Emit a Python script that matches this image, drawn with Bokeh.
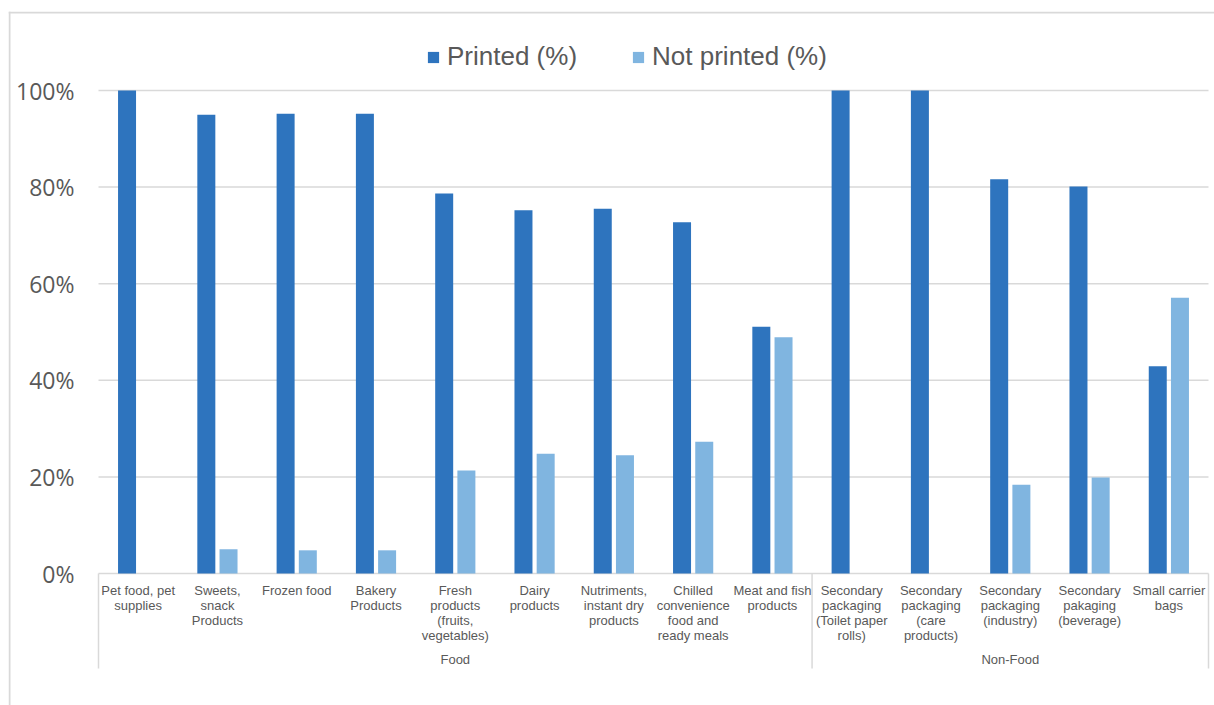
from bokeh.plotting import figure
from bokeh.models import ColumnDataSource, Range1d, Legend, LegendItem
from bokeh.transform import dodge
from bokeh.core.properties import value
from bokeh.embed import file_html
from bokeh.resources import INLINE

# ---- data -------------------------------------------------------------
categories = [
    "Pet food, pet\nsupplies",
    "Sweets,\nsnack\nProducts",
    "Frozen food",
    "Bakery\nProducts",
    "Fresh\nproducts\n(fruits,\nvegetables)",
    "Dairy\nproducts",
    "Nutriments,\ninstant dry\nproducts",
    "Chilled\nconvenience\nfood and\nready meals",
    "Meat and fish\nproducts",
    "Secondary\npackaging\n(Toilet paper\nrolls)",
    "Secondary\npackaging\n(care\nproducts)",
    "Secondary\npackaging\n(industry)",
    "Secondary\npakaging\n(beverage)",
    "Small carrier\nbags",
]
groups = ["Food", "Non-Food"]
group_sizes = [9, 5]
printed = [100.0, 95.0, 95.2, 95.2, 78.7, 75.2, 75.5, 72.7, 51.1, 100.0, 100.0, 81.6, 80.1, 42.9]
not_printed = [0.0, 5.0, 4.8, 4.8, 21.3, 24.8, 24.5, 27.3, 48.9, 0.0, 0.0, 18.4, 19.9, 57.1]
y_ticks = [0, 20, 40, 60, 80, 100]
y_tick_labels = ["0%", "20%", "40%", "60%", "80%", "100%"]
series_names = ["Printed (%)", "Not printed (%)"]

# ---- page geometry (pixels) --------------------------------------------
W, H = 1214, 705
FRAME_L, FRAME_T = 8, 11          # outer chart border
PLOT_L, PLOT_R = 98, 1208         # category span
ZERO_Y, FULL_Y = 573, 90          # 0 % and 100 % lines

n = len(categories)
px_x = (PLOT_R - PLOT_L) / n
px_y = (ZERO_Y - FULL_Y) / 100.0


def sx(px):
    return (px - PLOT_L) / px_x


def sy(py):
    return (ZERO_Y - py) / px_y


DARK = "#2E74BE"
LIGHT = "#80B5E0"
GRID = "#D9D9D9"
TEXT = "#595959"

positions = [i + 0.5 for i in range(n)]
source = ColumnDataSource(dict(pos=positions, printed=printed, not_printed=not_printed))

p = figure(
    width=W, height=H,
    x_range=Range1d(sx(FRAME_L), sx(W)),
    y_range=Range1d(sy(H), sy(FRAME_T)),
    x_axis_type=None, y_axis_type=None,
    min_border_left=FRAME_L, min_border_top=FRAME_T,
    min_border_right=0, min_border_bottom=0,
    output_backend="svg", toolbar_location=None,
    outline_line_color=None, background_fill_color="white",
    border_fill_color="white",
)

# outer border (left and top edges)
p.segment(x0=[sx(FRAME_L + 1)], x1=[sx(FRAME_L + 1)], y0=[sy(FRAME_T)], y1=[sy(H)],
          line_color=GRID, line_width=2)
p.segment(x0=[sx(FRAME_L)], x1=[sx(W)], y0=[sy(FRAME_T + 1)], y1=[sy(FRAME_T + 1)],
          line_color=GRID, line_width=2)

# horizontal gridlines (the 0 % line doubles as the category axis)
p.segment(x0=[0] * len(y_ticks), x1=[n] * len(y_ticks), y0=y_ticks, y1=y_ticks,
          line_color=GRID, line_width=1.5)

# group separators below the axis
bounds = [0]
for s in group_sizes:
    bounds.append(bounds[-1] + s)
p.segment(x0=bounds, x1=bounds, y0=[0] * len(bounds), y1=[sy(668)] * len(bounds),
          line_color=GRID, line_width=1.5)

# bars
bw = 18 / px_x
off = 0.14
r1 = p.vbar(x=dodge("pos", -off), top="printed", bottom=0, width=bw, source=source,
            fill_color=DARK, line_color=None)
r2 = p.vbar(x=dodge("pos", off), top="not_printed", bottom=0, width=bw, source=source,
            fill_color=LIGHT, line_color=None)

# y tick labels
p.text(x=[sx(74)] * len(y_ticks), y=y_ticks, text=y_tick_labels,
       text_align="right", text_baseline="middle",
       text_font=value("Open Sans"), text_font_size="23px", text_color=TEXT)

# category labels
p.text(x=positions, y=[sy(582)] * n, text=categories,
       text_align="center", text_baseline="top", text_line_height=1.0,
       text_font=value("Liberation Sans"), text_font_size="13px", text_color=TEXT)

# group labels
group_centers = [(bounds[i] + bounds[i + 1]) / 2 for i in range(len(groups))]
p.text(x=group_centers, y=[sy(659)] * len(groups), text=groups,
       text_align="center", text_baseline="middle",
       text_font=value("Liberation Sans"), text_font_size="13px", text_color=TEXT)

legend = Legend(
    items=[LegendItem(label=series_names[0], renderers=[r1]),
           LegendItem(label=series_names[1], renderers=[r2])],
    orientation="horizontal",
    location=(418, 633),
    glyph_width=14, glyph_height=14, label_standoff=7, spacing=54,
    padding=0, margin=0, border_line_color=None, background_fill_alpha=0,
    label_text_font="Liberation Sans", label_text_font_size="26px",
    label_text_color=TEXT,
)
p.add_layout(legend)

open("out.html", "w").write(file_html(p, INLINE))
